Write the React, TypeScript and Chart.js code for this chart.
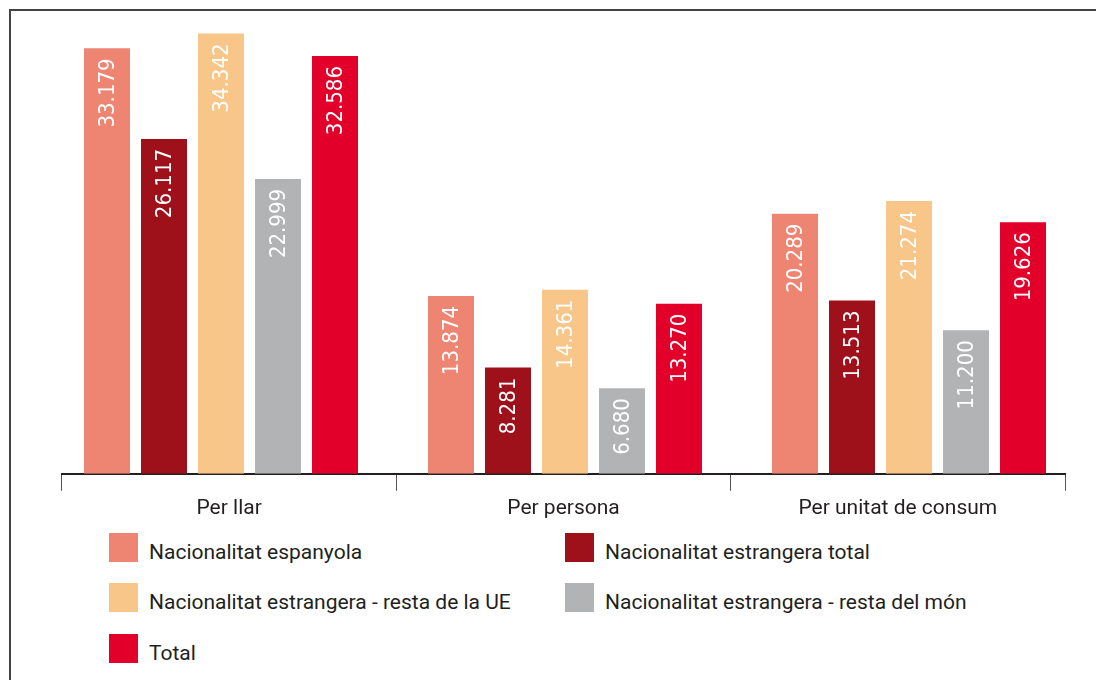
import React, { useEffect, useRef } from "react";
import { Chart, registerables } from "chart.js";

Chart.register(...registerables);

const categories = ["Per llar", "Per persona", "Per unitat de consum"];
const seriesNames = [
  "Nacionalitat espanyola",
  "Nacionalitat estrangera total",
  "Nacionalitat estrangera - resta de la UE",
  "Nacionalitat estrangera - resta del món",
  "Total",
];
const espanyola = [33179, 13874, 20289];
const estrangeraTotal = [26117, 8281, 13513];
const restaUE = [34342, 14361, 21274];
const restaMon = [22999, 6680, 11200];
const total = [32586, 13270, 19626];
const seriesValues = [espanyola, estrangeraTotal, restaUE, restaMon, total];
const seriesColors = ["#EE8572", "#9E111A", "#F9C68A", "#B2B3B5", "#E2002B"];
const yMax = 35000;

const TEXT = "#231F20";
const FONT = "Roboto, 'DejaVu Sans', sans-serif";
const LABEL_FONT = "'Liberation Sans Narrow', 'DejaVu Sans Condensed', Roboto, sans-serif";

const fmt = (v: number) => v.toString().replace(/\B(?=(\d{3})+(?!\d))/g, ".");

const barLabels = {
  id: "barLabels",
  afterDatasetsDraw(chart: any) {
    const ctx = chart.ctx;
    chart.data.datasets.forEach((ds: any, di: number) => {
      const meta = chart.getDatasetMeta(di);
      meta.data.forEach((el: any, i: number) => {
        ctx.save();
        ctx.translate(el.x, el.y + 10);
        ctx.rotate(-Math.PI / 2);
        ctx.fillStyle = "#FFFFFF";
        ctx.font = `22px ${LABEL_FONT}`;
        ctx.textAlign = "right";
        ctx.textBaseline = "middle";
        ctx.fillText(fmt(ds.data[i].y), 0, 1);
        ctx.restore();
      });
    });
  },
};

function BarChart() {
  const ref = useRef<HTMLCanvasElement>(null);
  useEffect(() => {
    if (!ref.current) return;
    const chart = new Chart(ref.current, {
      type: "bar",
      data: {
        labels: categories,
        datasets: seriesNames.map((name, i) => ({
          label: name,
          data: seriesValues[i].map((v, ci) => ({ x: ci, y: v })),
          backgroundColor: seriesColors[i],
          borderWidth: 0,
          barPercentage: 0.807,
          categoryPercentage: 0.8285,
          xAxisID: "xb",
        })),
      },
      options: {
        responsive: false,
        animation: false,
        layout: { padding: { left: 62, right: 31, top: 25, bottom: 0 } },
        plugins: { legend: { display: false }, tooltip: { enabled: false } },
        scales: {
          x: {
            type: "category",
            grid: {
              display: true,
              drawOnChartArea: false,
              drawTicks: true,
              tickLength: 17,
              color: "#555555",
              lineWidth: 1,
              offset: true,
            },
            border: { display: true, color: TEXT, width: 2 },
            ticks: { color: TEXT, font: { family: FONT, size: 21 }, padding: 5 },
          },
          xb: {
            type: "linear",
            display: false,
            offset: false,
            grid: { offset: false },
            min: -0.4622,
            max: 2.4535,
            afterBuildTicks: (scale: any) => {
              scale.ticks = categories.map((_, i) => ({ value: i }));
            },
          },
          y: { display: false, min: 0, max: yMax },
        },
      },
      plugins: [barLabels],
    });
    return () => chart.destroy();
  }, []);
  return <canvas ref={ref} width={1096} height={526} style={{ display: "block" }} />;
}

const legendOrder = [
  { idx: 0, left: 109, top: 533 },
  { idx: 1, left: 565, top: 533 },
  { idx: 2, left: 109, top: 583 },
  { idx: 3, left: 565, top: 583 },
  { idx: 4, left: 109, top: 634 },
];

export default function App() {
  return (
    <div
      style={{
        position: "absolute",
        left: 0,
        top: 0,
        width: 1096,
        height: 680,
        overflow: "hidden",
        background: "#fff",
      }}
    >
      <div
        style={{
          position: "absolute",
          left: 9,
          top: 9,
          width: 1200,
          height: 800,
          border: "2px solid #444",
        }}
      />
      <div style={{ position: "absolute", left: 0, top: 0 }}>
        <BarChart />
      </div>
      {legendOrder.map((l) => (
        <div
          key={l.idx}
          style={{
            position: "absolute",
            left: l.left,
            top: l.top,
            height: 29,
            display: "flex",
            alignItems: "center",
            fontFamily: FONT,
            fontSize: 21,
            color: TEXT,
            whiteSpace: "nowrap",
          }}
        >
          <span
            style={{
              display: "inline-block",
              width: 29,
              height: 29,
              background: seriesColors[l.idx],
              marginRight: 11,
            }}
          />
          <span style={{ position: "relative", top: 4 }}>{seriesNames[l.idx]}</span>
        </div>
      ))}
    </div>
  );
}
